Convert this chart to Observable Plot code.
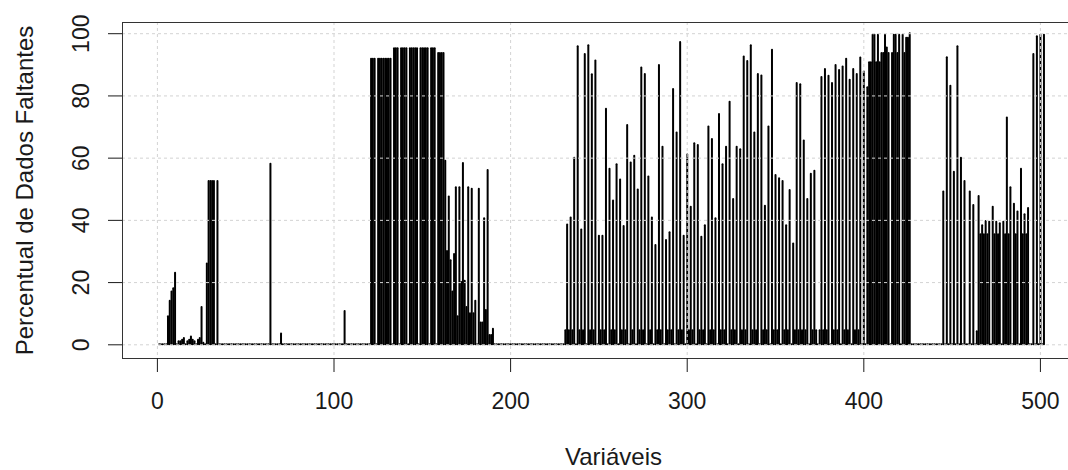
<!DOCTYPE html>
<html><head><meta charset="utf-8">
<script src="https://cdn.jsdelivr.net/npm/d3@7"></script>
<script src="https://cdn.jsdelivr.net/npm/@observablehq/plot@0.6"></script>
<style>html,body{margin:0;padding:0;background:#fff;} #chart{width:1068px;height:470px;overflow:hidden}</style>
</head><body><div id="chart"></div>
<script>
const xTitle = "Variáveis";
const yTitle = "Percentual de Dados Faltantes";
const xTicks = [0, 100, 200, 300, 400, 500];
const yTicks = [0, 20, 40, 60, 80, 100];
const missingPct = [
  0,0,0,0,0,9,14,17,18,23,
  0,1,1,1.5,2,0,1,1.5,2.5,1.5,
  1,0,1.5,2,12,0.5,0,26,52.5,52.5,
  52.5,52.5,0,52.5,0,0,0,0,0,0,
  0,0,0,0,0,0,0,0,0,0,
  0,0,0,0,0,0,0,0,0,0,
  0,0,0,58,0,0,0,0,0,3.5,
  0,0,0,0,0,0,0,0,0,0,
  0,0,0,0,0,0,0,0,0,0,
  0,0,0,0,0,0,0,0,0,0,
  0,0,0,0,0,10.7,0,0,0,0,
  0,0,0,0,0,0,0,0,0,0,
  91.8,91.8,91.8,0,91.8,91.8,91.8,91.8,91.8,91.8,
  91.8,91.8,0,95.2,95.2,95.2,0,95.2,95.2,95.2,
  95.2,0,95.2,95.2,95.2,95.2,95.2,0,95.2,95.2,
  95.2,95.2,95.2,0,95.2,95.2,95.2,0,93.6,93.6,
  93.6,93.6,59,30,47.5,27,17,29,50.5,9,
  50.5,20,58.3,20.4,12,50.5,10,50,10,14,
  0,50,7,7,40.5,11,56,3,3,5,
  0,0,0,0,0,0,0,0,0,0,
  0,0,0,0,0,0,0,0,0,0,
  0,0,0,0,0,0,0,0,0,0,
  0,0,0,0,0,0,0,0,0,0,
  4.5,38.5,4.5,40.8,4.5,60,0,95.8,4.5,36.9,
  4.5,93.3,0,96.1,4.5,86.8,4.5,91.2,0,34.9,
  4.5,34.9,4.5,75.7,0,56.4,4.5,46.2,4.5,57.9,
  0,53,4.5,38,4.5,70.5,0,58.4,4.5,60.6,
  0,49.8,4.5,89,4.5,86.9,0,53.9,4.5,40.8,
  0,31.9,4.5,89.8,4.5,63.5,0,33.5,4.5,36,
  4.5,82.1,0,68.1,4.5,97.2,4.5,34.9,0,61,
  4.5,44.2,4.5,64.6,0,64.1,4.5,34.6,4.5,38.3,
  0,70,4.5,66,4.5,40.5,0,74,4.5,57.9,
  4.5,63.5,0,78,4.5,46.7,4.5,63.5,0,62.7,
  4.5,92.5,4.5,91.1,0,96.1,4.5,68.1,4.5,86.9,
  0,86.4,4.5,44.5,4.5,70,0,94.7,4.5,54.4,
  4.5,53.4,0,52.5,4.5,38.3,4.5,49.6,0,32.4,
  4.5,84,4.5,83.6,4.5,65.5,4.5,46.7,0,54.8,
  4.5,55.8,4.5,0,4.5,85.9,4.5,88.5,4.5,86.3,
  0,84,4.5,89.8,4.5,88.2,0,89.3,4.5,91.8,
  4.5,85,0,88.5,4.5,86.9,4.5,92.2,0,87.7,
  0,82.6,90.7,90.7,99.5,99.5,90.7,99.5,90.7,93.6,
  93.6,99.5,95.4,93.6,0,93.6,99.5,99.5,93.6,99.5,
  0,99.5,93.6,98.5,98.5,100,0,0,0,0,
  0,0,0,0,0,0,0,0,0,0,
  0,0,0,0,49.1,0,92.3,0,83.1,0,
  55.5,0,95.8,0,60,0,52.5,0,0,49.1,
  0,44.8,0,4.2,47.7,35.4,38.3,35.4,39.6,35.4,
  39.4,0,44.2,35.4,39.4,35.4,38.9,0,39.4,35.4,
  72.9,35.4,50.5,0,45.2,35.4,42.7,0,56.4,35.4,
  41.8,35.4,43.8,0,0,93.3,0,99,0,99.5,
  0,99.5
];
const variables = missingPct.map((_, k) => k + 1);
const data = variables.map((v, k) => ({variable: v, pct: missingPct[k]}));

const ink = "#1a1a1a";
const chart = Plot.plot({
  width: 1068, height: 470,
  marginLeft: 122, marginRight: 0, marginTop: 22, marginBottom: 112,
  style: {fontFamily: "'Liberation Sans', Arial, sans-serif", fontSize: "23px", background: "#fff", color: ink, overflow: "visible"},
  x: {domain: [-19.76, 515.9]},
  y: {domain: [-4.4, 103.6]},
  marks: [
    Plot.ruleX(data, {x: "variable", y1: 0, y2: "pct", stroke: "#000", strokeWidth: 2, strokeLinecap: "round"}),
    Plot.gridX(xTicks, {stroke: "#d3d3d3", strokeOpacity: 1, strokeWidth: 1, strokeDasharray: "3,3"}),
    Plot.gridY(yTicks, {stroke: "#d3d3d3", strokeOpacity: 1, strokeWidth: 1, strokeDasharray: "3,3"}),
    Plot.frame({stroke: "#333"}),
    Plot.axisX(xTicks, {tickSize: 14, tickPadding: 20, fontSize: 23, color: ink, label: null, tickFormat: d => String(d)}),
    Plot.axisY(yTicks, {tickSize: 14, tickFormat: () => "", color: ink, label: null}),
    Plot.text(yTicks, {y: d => d, text: d => String(d), frameAnchor: "left", textAnchor: "middle", dx: -41, rotate: -90, lineAnchor: "middle", fontSize: 23, fill: ink}),
    Plot.text([yTitle], {text: d => d, frameAnchor: "left", textAnchor: "middle", dx: -97, rotate: -90, lineAnchor: "middle", fontSize: 24, fill: ink}),
    Plot.text([xTitle], {text: d => d, frameAnchor: "bottom", textAnchor: "middle", dx: 18, dy: 99, lineAnchor: "middle", fontSize: 24, fill: ink})
  ]
});
document.getElementById("chart").appendChild(chart);
</script>
</body></html>
